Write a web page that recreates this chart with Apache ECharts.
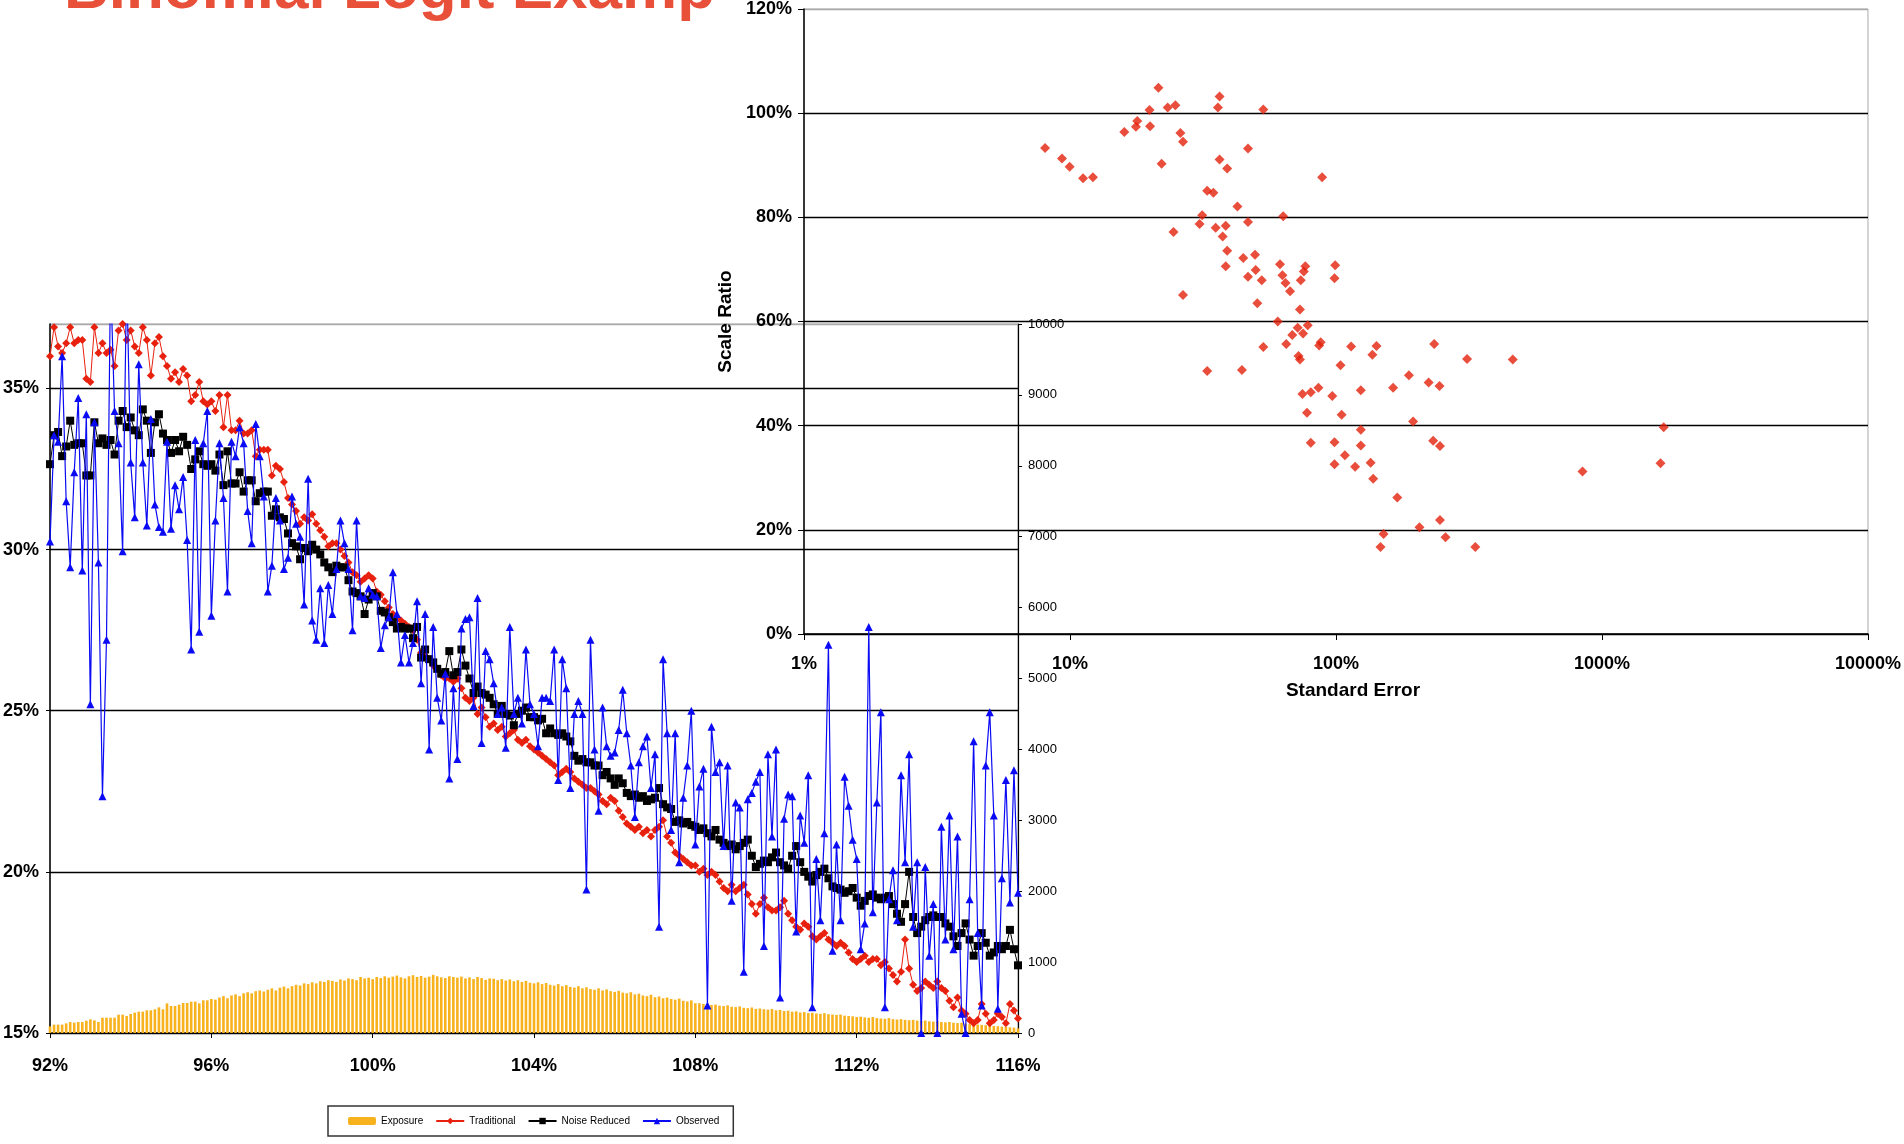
<!DOCTYPE html>
<html>
<head>
<meta charset="utf-8">
<script src="https://cdn.jsdelivr.net/npm/echarts@6/dist/echarts.min.js"></script>
<style>html,body{margin:0;padding:0;background:#fff;}#c{width:1904px;height:1144px;}</style>
</head>
<body>
<div id="c"></div>
<script>
// ---------- data: left chart (loss ratio by relativity) ----------
const xCats = [
92.0,92.1,92.2,92.3,92.4,92.5,92.6,92.7,92.8,92.9,
93.0,93.1,93.2,93.3,93.4,93.5,93.6,93.7,93.8,93.9,
94.0,94.1,94.2,94.3,94.4,94.5,94.6,94.7,94.8,94.9,
95.0,95.1,95.2,95.3,95.4,95.5,95.6,95.7,95.8,95.9,
96.0,96.1,96.2,96.3,96.4,96.5,96.6,96.7,96.8,96.9,
97.0,97.1,97.2,97.3,97.4,97.5,97.6,97.7,97.8,97.9,
98.0,98.1,98.2,98.3,98.4,98.5,98.6,98.7,98.8,98.9,
99.0,99.1,99.2,99.3,99.4,99.5,99.6,99.7,99.8,99.9,
100.0,100.1,100.2,100.3,100.4,100.5,100.6,100.7,100.8,100.9,
101.0,101.1,101.2,101.3,101.4,101.5,101.6,101.7,101.8,101.9,
102.0,102.1,102.2,102.3,102.4,102.5,102.6,102.7,102.8,102.9,
103.0,103.1,103.2,103.3,103.4,103.5,103.6,103.7,103.8,103.9,
104.0,104.1,104.2,104.3,104.4,104.5,104.6,104.7,104.8,104.9,
105.0,105.1,105.2,105.3,105.4,105.5,105.6,105.7,105.8,105.9,
106.0,106.1,106.2,106.3,106.4,106.5,106.6,106.7,106.8,106.9,
107.0,107.1,107.2,107.3,107.4,107.5,107.6,107.7,107.8,107.9,
108.0,108.1,108.2,108.3,108.4,108.5,108.6,108.7,108.8,108.9,
109.0,109.1,109.2,109.3,109.4,109.5,109.6,109.7,109.8,109.9,
110.0,110.1,110.2,110.3,110.4,110.5,110.6,110.7,110.8,110.9,
111.0,111.1,111.2,111.3,111.4,111.5,111.6,111.7,111.8,111.9,
112.0,112.1,112.2,112.3,112.4,112.5,112.6,112.7,112.8,112.9,
113.0,113.1,113.2,113.3,113.4,113.5,113.6,113.7,113.8,113.9,
114.0,114.1,114.2,114.3,114.4,114.5,114.6,114.7,114.8,114.9,
115.0,115.1,115.2,115.3,115.4,115.5,115.6,115.7,115.8,115.9,
116.0];

const exposure = [
94,118,118,118,136,155,146,155,155,174,193,179,155,216,216,216,216,259,259,240,
268,287,301,301,320,320,334,362,334,418,381,381,400,423,423,442,442,418,461,461,480,
470,500,520,490,530,545,520,560,575,560,590,600,585,610,630,600,640,655,630,660,
680,670,700,690,715,700,730,720,745,735,720,755,740,770,760,745,790,770,780,760,
790,775,800,780,795,810,785,770,800,815,790,805,780,795,820,800,785,775,800,790,
780,795,770,785,760,790,775,750,770,765,745,760,740,755,730,745,720,735,710,700,
715,690,705,680,670,690,660,675,650,640,660,630,645,620,610,630,600,615,590,580,
595,570,560,575,545,555,530,520,540,505,515,490,500,480,470,485,455,445,460,420,
420,410,405,395,400,385,380,390,370,365,375,355,350,360,340,345,335,330,340,320,
325,310,315,300,305,290,295,280,285,275,270,280,265,260,255,260,245,240,235,226,
230,220,215,225,210,205,200,210,195,190,195,185,180,185,175,170,175,165,160,165,
155,150,155,145,140,145,130,125,130,120,115,110,115,100,95,90,85,80,75,65];

const traditional = [
36.0,36.9,36.3,36.1,36.4,36.9,36.4,36.5,36.5,35.3,
35.2,36.9,36.1,36.4,36.1,36.2,35.7,36.8,37.0,36.5,
36.8,36.3,36.1,36.9,36.5,35.4,36.4,36.6,36.0,35.7,
35.3,35.5,35.2,35.6,35.4,34.6,34.8,35.2,34.6,34.5,
34.6,34.3,34.8,33.8,34.8,33.7,33.7,34.0,33.6,33.6,
33.7,32.9,33.1,33.1,33.1,32.3,32.6,32.5,32.1,31.6,
31.4,31.2,30.8,31.0,30.9,31.1,30.8,30.6,30.4,30.1,
30.2,30.2,30.0,29.8,29.6,29.3,29.2,29.0,29.1,29.2,
29.1,28.7,28.6,28.4,28.2,28.0,27.9,27.8,27.7,27.6,
27.5,27.2,26.8,26.7,26.6,26.4,26.3,26.1,26.0,26.0,
25.9,26.0,25.7,25.4,25.3,25.4,24.9,25.1,24.8,24.5,
24.6,24.4,24.5,24.2,24.3,24.4,24.1,24.0,24.1,23.9,
23.8,23.7,23.6,23.5,23.4,23.3,23.0,23.1,23.2,23.1,
22.9,22.8,22.7,22.6,22.6,22.5,22.4,22.2,22.1,22.3,
22.2,21.9,21.7,21.5,21.4,21.3,21.4,21.2,21.3,21.1,
21.3,21.4,21.6,21.1,20.9,20.6,20.5,20.4,20.3,20.2,
20.2,20.0,20.1,19.9,20.0,19.9,19.7,19.5,19.4,19.6,
19.4,19.5,19.6,19.3,19.0,18.7,19.0,19.2,18.9,18.8,
18.8,18.9,19.1,18.7,18.5,18.3,18.2,18.4,18.3,18.0,
17.9,18.0,18.1,17.9,17.8,17.7,17.8,17.7,17.5,17.3,
17.2,17.3,17.4,17.2,17.3,17.3,17.1,17.2,17.0,16.8,
16.6,16.9,17.9,17.0,16.5,16.3,16.4,16.6,16.5,16.4,
16.6,16.4,16.3,16.0,15.8,16.1,15.7,15.6,15.4,15.3,
15.4,15.9,15.6,15.3,15.4,15.6,15.5,15.3,15.9,15.7,
15.45];

const noiseReduced = [
32.65,33.55,33.65,32.9,33.2,34.0,33.25,33.3,33.3,32.3,
32.3,33.95,33.3,33.45,33.25,33.4,32.95,34.0,34.3,33.8,
34.1,33.7,33.55,34.35,34.0,33.0,33.95,34.2,33.6,33.4,
33.0,33.4,33.05,33.5,33.25,32.5,32.8,33.05,32.65,32.6,
32.65,32.45,32.95,32.0,33.05,32.05,32.05,32.4,31.8,32.15,
32.15,31.5,31.75,31.8,31.8,31.05,31.25,31.0,30.95,30.5,
30.2,30.1,29.7,30.05,29.95,30.15,30.0,29.85,29.6,29.45,
29.3,29.5,29.45,29.45,29.05,28.7,28.65,28.55,28.0,28.45,
28.65,28.55,28.1,28.05,27.9,27.75,27.55,27.6,27.55,27.55,
27.25,27.6,26.65,26.9,26.6,26.5,26.3,26.15,26.2,26.85,
26.1,26.2,26.9,26.4,26.0,25.55,25.75,25.55,25.5,25.4,
25.2,24.9,25.15,24.9,24.85,24.55,24.9,25.0,25.1,24.8,
24.8,24.7,24.75,24.3,24.45,24.3,24.25,24.3,24.2,24.05,
23.6,23.45,23.5,23.4,23.4,23.3,23.3,23.0,23.1,22.9,
22.7,22.9,22.75,22.45,22.35,22.4,22.3,22.35,22.2,22.25,
22.3,22.6,22.1,22.0,21.95,21.55,21.6,21.5,21.55,21.45,
21.4,21.3,21.35,21.2,21.1,21.3,21.0,20.9,20.8,20.85,
20.7,20.8,20.9,21.0,20.5,20.15,20.25,20.35,20.3,20.45,
20.6,20.3,20.2,20.1,20.5,20.8,20.3,20.0,19.85,19.7,
19.9,20.0,20.1,19.8,19.55,19.5,19.45,19.35,19.4,19.5,
19.2,18.95,19.1,19.25,19.3,19.2,19.15,19.2,19.25,19.0,
18.7,18.45,19.0,20.0,18.6,18.1,18.3,18.5,18.6,18.65,
18.6,18.6,18.4,18.3,18.0,17.7,18.1,18.4,17.9,17.4,
17.7,18.1,17.8,17.4,17.5,17.7,17.6,17.7,18.2,17.6,
17.1];

const observed = [
30.25,33.55,33.35,36.0,31.5,29.45,32.4,34.7,29.35,34.2,
25.2,33.95,29.6,22.35,27.2,38.5,34.3,33.3,29.95,38.5,
32.7,31.0,35.75,32.7,30.75,34.05,31.4,30.7,30.55,33.35,
30.65,32.0,31.25,32.25,30.3,26.9,33.4,27.45,33.3,34.3,
27.95,30.9,33.3,31.6,28.7,33.35,32.9,33.8,33.3,31.2,
30.2,33.9,32.9,31.65,28.7,29.5,31.6,30.9,29.4,29.75,
31.65,30.8,30.4,28.3,32.2,27.8,27.2,28.8,27.1,28.9,
28.0,29.4,30.9,30.2,29.4,27.5,30.9,28.55,28.5,28.8,
28.6,28.55,26.95,27.65,27.9,29.3,28.0,26.5,27.35,26.5,
27.1,28.4,25.85,28.0,23.8,27.6,25.4,24.7,26.15,22.9,
25.7,23.5,27.55,27.85,27.9,25.15,28.5,24.0,26.85,26.6,
25.85,24.9,25.1,23.85,27.6,24.9,25.4,24.6,26.9,25.2,
24.9,23.9,25.4,25.4,25.3,26.9,22.85,26.6,25.7,22.6,
24.9,25.3,24.9,19.45,27.2,23.8,21.9,25.1,23.9,23.6,
23.7,24.4,25.65,24.3,23.3,21.7,23.4,23.9,24.2,22.6,
23.65,18.3,26.6,24.3,21.3,24.3,20.3,22.3,23.3,25.0,
20.85,22.65,23.2,15.85,24.5,23.1,23.4,20.8,23.3,19.1,
22.15,22.0,16.9,22.25,22.45,22.8,23.1,17.7,23.65,21.1,
23.8,16.1,21.65,22.4,22.35,18.15,21.75,20.9,23.0,15.8,
20.4,18.5,21.2,27.05,17.55,20.85,18.5,22.95,22.05,21.0,
20.4,17.6,18.4,27.6,18.75,22.15,24.95,15.8,19.15,20.05,
18.5,23.0,20.3,23.65,18.3,20.3,15.0,20.15,17.4,19.0,
15.0,21.4,17.9,21.75,17.6,21.1,15.6,15.0,19.15,24.05,
18.1,15.85,23.3,24.95,21.75,15.75,19.8,22.85,19.05,23.15,
19.35];

// ---------- data: scatter (standard error % vs scale ratio %) ----------
const stdError = [
21.5,19.9,23.3,24.9,36.5,36.0,53.3,16.0,17.7,17.9,
20.0,26.0,26.6,8.06,9.33,9.97,11.2,12.2,22.1,36.5,
39.0,46.7,88.7,32.8,34.6,42.6,31.4,30.7,35.3,38.5,
37.5,46.7,63.3,24.5,39.0,44.8,49.6,38.5,46.7,49.9,
52.6,61.6,62.9,64.6,67.2,26.6,50.6,73.2,73.7,76.7,
75.7,99.3,98.7,60.4,78.3,71.8,68.5,75.2,65.0,53.3,
86.4,87.6,114,142,234,72.3,73.2,137,104,311,
462,32.8,44.3,188,223,245,85.9,80.4,74.8,124,
164,96.8,77.8,105,195,124,1706,80.4,98.7,124,
232,246,108,135,98.7,118,1660,845,138,170,
246,206,151,258,147,334];
const scaleRatio = [
104.9,100.6,101.1,101.5,103.2,101.1,100.7,96.4,97.4,98.5,
97.5,96.2,94.5,93.3,91.3,89.7,87.5,87.7,90.3,91.1,
89.4,93.2,87.7,85.1,84.7,82.1,80.4,78.7,78.0,78.4,
76.3,79.1,80.2,77.2,73.6,72.2,72.8,70.6,68.6,69.9,
67.9,71.0,68.9,67.4,65.8,65.1,63.5,62.3,67.9,70.6,
69.6,70.8,68.3,60.0,59.3,58.8,57.4,57.7,55.7,55.1,
55.4,56.0,55.2,55.3,55.7,53.4,52.7,53.6,51.6,52.8,
52.7,50.5,50.7,49.7,48.3,47.6,47.3,46.4,46.1,46.8,
47.3,45.7,42.5,42.1,40.8,39.2,39.7,36.7,36.8,36.2,
37.1,36.1,34.3,32.9,32.6,32.1,32.8,31.2,29.8,26.2,
21.9,20.5,19.2,18.6,16.7,16.7];

const legendNames = ['Exposure','Traditional','Noise Reduced','Observed'];
const titleText = 'Binomial Logit Example';

// ---------- styling ----------
const NARROW = "'Liberation Sans Narrow','Arial Narrow','Liberation Sans',Arial,sans-serif";
const SANS = "'Liberation Sans',Arial,Helvetica,sans-serif";

const pairs = (ys) => xCats.map((x, i) => [x, ys[i]]);

const chart = echarts.init(document.getElementById('c'), null, {renderer: 'canvas'});
const option = {
  animation: false,
  backgroundColor: '#ffffff',
  graphic: [
    {type: 'text', z: -20, x: 64, y: -9,
     style: {text: titleText, fill: '#E9503A', font: 'bold 62px ' + SANS, verticalAlign: 'middle', align: 'left'}},
    {type: 'rect', z: -10, shape: {x: 712, y: 0, width: 1192, height: 60}, style: {fill: '#ffffff'}}
  ],
  legend: {
    data: legendNames, left: 328, top: 1106, orient: 'horizontal',
    itemWidth: 28, itemHeight: 8, itemGap: 12,
    padding: [10, 14, 10, 20],
    borderColor: '#333', borderWidth: 1.5,
    selectedMode: false,
    textStyle: {fontFamily: NARROW, fontSize: 10, color: '#000'}
  },
  grid: [
    {left: 50, top: 324, width: 968, height: 709, show: true, borderColor: '#aaaaaa', borderWidth: 1, backgroundColor: 'transparent'},
    {left: 804, top: 3, width: 1066, height: 631, show: true, borderColor: '#aaaaaa', borderWidth: 1, backgroundColor: 'transparent'}
  ],
  xAxis: [
    {gridIndex: 0, type: 'value', min: 92, max: 116, interval: 4,
     axisLine: {lineStyle: {color: '#000', width: 1.5}},
     axisTick: {length: 5, lineStyle: {color: '#000'}},
     axisLabel: {formatter: '{value}%', fontFamily: NARROW, fontWeight: 'bold', fontSize: 18, color: '#000', margin: 24},
     splitLine: {show: false}},
    {gridIndex: 1, type: 'log', logBase: 10, min: 1, max: 10000,
     name: 'Standard Error', nameLocation: 'middle', nameGap: 47,
     nameTextStyle: {fontFamily: SANS, fontWeight: 'bold', fontSize: 19, color: '#000', padding: [0, 0, 0, 34]},
     axisLine: {lineStyle: {color: '#000', width: 1.5}},
     axisTick: {length: 6, lineStyle: {color: '#000'}},
     minorTick: {show: false},
     axisLabel: {formatter: (v) => Math.round(v) + '%', fontFamily: SANS, fontWeight: 'bold', fontSize: 18, color: '#000', margin: 21},
     splitLine: {show: false}}
  ],
  yAxis: [
    {gridIndex: 0, type: 'value', min: 15, max: 37, interval: 5,
     axisLine: {show: true, lineStyle: {color: '#000', width: 1.5}},
     axisTick: {show: true, length: 4, lineStyle: {color: '#000'}},
     axisLabel: {formatter: '{value}%', fontFamily: NARROW, fontWeight: 'bold', fontSize: 18, color: '#000', margin: 11, showMaxLabel: false},
     splitLine: {show: true, lineStyle: {color: ['#000', '#000', '#000', '#000', '#000', '#aaaaaa'], width: 1.4}}},
    {gridIndex: 0, type: 'value', position: 'right', min: 0, max: 10000, interval: 1000,
     axisLine: {show: true, lineStyle: {color: '#000', width: 1.2}},
     axisTick: {show: true, length: 4, lineStyle: {color: '#000'}},
     axisLabel: {formatter: (v) => String(v), fontFamily: NARROW, fontSize: 13, color: '#000', margin: 10},
     splitLine: {show: false}},
    {gridIndex: 1, type: 'value', min: 0, max: 120, interval: 20,
     name: 'Scale Ratio', nameLocation: 'middle', nameGap: 61,
     nameTextStyle: {fontFamily: SANS, fontWeight: 'bold', fontSize: 19, color: '#000'},
     axisLine: {show: true, lineStyle: {color: '#000', width: 1.5}},
     axisTick: {show: true, length: 6, lineStyle: {color: '#000'}},
     axisLabel: {formatter: '{value}%', fontFamily: SANS, fontWeight: 'bold', fontSize: 18, color: '#000', margin: 12},
     splitLine: {show: true, lineStyle: {color: ['#000', '#000', '#000', '#000', '#000', '#000', '#aaaaaa'], width: 1.4}}}
  ],
  series: [
    {name: 'Exposure', type: 'bar', xAxisIndex: 0, yAxisIndex: 1, data: pairs(exposure),
     barWidth: 2.6, itemStyle: {color: '#F7B21E'}, z: 1},
    {name: 'Traditional', type: 'line', xAxisIndex: 0, yAxisIndex: 0, data: pairs(traditional),
     symbol: 'diamond', symbolSize: 8, showSymbol: true, clip: true,
     itemStyle: {color: '#E8200E'}, lineStyle: {color: '#E8200E', width: 1}, z: 2},
    {name: 'Noise Reduced', type: 'line', xAxisIndex: 0, yAxisIndex: 0, data: pairs(noiseReduced),
     symbol: 'rect', symbolSize: 8, showSymbol: true, clip: true,
     itemStyle: {color: '#000'}, lineStyle: {color: '#000', width: 1}, z: 3},
    {name: 'Observed', type: 'line', xAxisIndex: 0, yAxisIndex: 0, data: pairs(observed),
     symbol: 'triangle', symbolSize: 8, showSymbol: true, clip: true,
     itemStyle: {color: '#0A0AF5'}, lineStyle: {color: '#0A0AF5', width: 1.2}, z: 4},
    {name: 'Scale Ratio', type: 'scatter', xAxisIndex: 1, yAxisIndex: 2,
     data: stdError.map((s, i) => [s, scaleRatio[i]]),
     symbol: 'diamond', symbolSize: 10, itemStyle: {color: '#E3200B'}, z: 2}
  ]
};
chart.setOption(option);
</script>
</body>
</html>
